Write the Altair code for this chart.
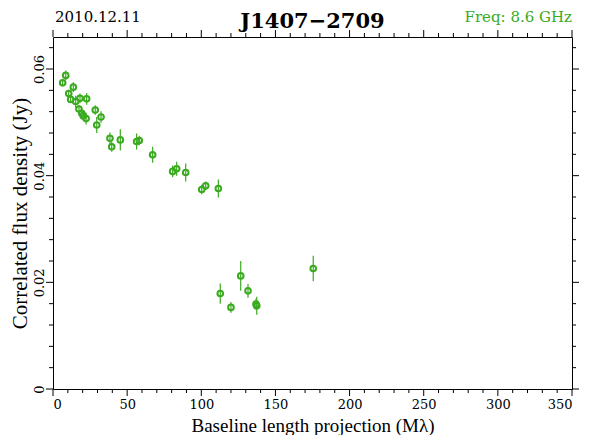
import altair as alt
import pandas as pd

# Data
baseline = [6.5, 8.6, 13.7, 10.6, 11.9, 15.3, 18.2, 22.7, 17.5, 19.4,
            20.4, 22.3, 28.5, 32.4, 29.5, 38.4, 39.6, 45.4, 56.4, 58.2,
            67.2, 80.7, 83.4, 89.5, 100.3, 103.0, 111.5, 112.8, 120.0, 126.6,
            131.5, 137.4, 136.9, 175.5]
flux = [0.0574, 0.0588, 0.0566, 0.0554, 0.0543, 0.0539, 0.0545, 0.0544, 0.0525, 0.0517,
        0.0512, 0.0507, 0.0523, 0.0510, 0.0495, 0.0470, 0.0454, 0.0467, 0.0464, 0.0466,
        0.0439, 0.0408, 0.0413, 0.0406, 0.0374, 0.0381, 0.0376, 0.0179, 0.0153, 0.0212,
        0.0184, 0.0156, 0.0159, 0.0226]
err = [0.0006, 0.0009, 0.0009, 0.0007, 0.0006, 0.0011, 0.0009, 0.0011, 0.0007, 0.0007,
       0.0007, 0.0011, 0.0009, 0.0011, 0.0015, 0.0011, 0.0009, 0.0020, 0.0015, 0.0009,
       0.0015, 0.0011, 0.0013, 0.0017, 0.0009, 0.0008, 0.0017, 0.0019, 0.0010, 0.0028,
       0.0013, 0.0017, 0.0010, 0.0024]

x_major = [0, 50, 100, 150, 200, 250, 300, 350]
x_minor = [10, 20, 30, 40, 60, 70, 80, 90, 110, 120, 130, 140, 160, 170, 180, 190,
           210, 220, 230, 240, 260, 270, 280, 290, 310, 320, 330, 340]
y_major = [0.0, 0.02, 0.04, 0.06]
y_minor = [0.004, 0.008, 0.012, 0.016, 0.024, 0.028, 0.032, 0.036,
           0.044, 0.048, 0.052, 0.056, 0.064]

date_text = "2010.12.11"
source_text = "J1407\u22122709"
freq_text = "Freq: 8.6 GHz"

GREEN = "#3aaa1f"
W, H = 519, 352
MAJ, MIN = 7, 4

df = pd.DataFrame({"b": baseline, "f": flux, "e": err})
df["lo"] = df["f"] - df["e"]
df["hi"] = df["f"] + df["e"]

xs = alt.Scale(domain=[0, 350], nice=False, zero=False)
ys = alt.Scale(domain=[0, 0.066], nice=False, zero=False)

xaxis = alt.Axis(values=x_major, ticks=False, domain=False, grid=False,
                 labelFont="DejaVu Serif", labelFontSize=13, labelColor="black",
                 labelPadding=9, title="Baseline length projection (M\u03bb)",
                 titleFont="Liberation Serif", titleFontSize=19, titleFontWeight="normal",
                 titleColor="black", titleX=W / 2, titleY=42, titleAlign="center",
                 titleBaseline="alphabetic", titleAnchor="middle")
yaxis = alt.Axis(values=y_major, ticks=False, domain=False, grid=False,
                 labelFont="DejaVu Serif", labelFontSize=13, labelColor="black",
                 labelAngle=270, labelAlign="center", labelBaseline="bottom",
                 labelPadding=7,
                 labelExpr="datum.value == 0 ? '0' : format(datum.value, '.2f')",
                 title="Correlated flux density (Jy)",
                 titleFont="Liberation Serif", titleFontSize=21, titleFontWeight="normal",
                 titleColor="black", titleAngle=270, titleX=-33, titleY=H / 2,
                 titleAlign="center", titleBaseline="middle", titleAnchor="middle")


def X(field):
    return alt.X(field, type="quantitative", scale=xs, axis=xaxis)


def Y(field):
    return alt.Y(field, type="quantitative", scale=ys, axis=yaxis)


bars = alt.Chart(df).mark_rule(color=GREEN, strokeWidth=1.2).encode(
    x=X("b"), y=Y("lo"), y2="hi")
pts = alt.Chart(df).mark_point(shape="circle", filled=False, color=GREEN,
                               size=32, strokeWidth=2, opacity=1).encode(
    x=X("b"), y=Y("f"))

layers = [bars, pts]

dxM = pd.DataFrame({"p": x_major})
dxm = pd.DataFrame({"p": x_minor})
dyM = pd.DataFrame({"p": y_major})
dym = pd.DataFrame({"p": y_minor})

for d, L in [(dxM, MAJ), (dxm, MIN)]:
    layers.append(alt.Chart(d).mark_rule(color="black", strokeWidth=1).encode(
        x=X("p"), y=alt.value(H), y2=alt.value(H + L)))
    layers.append(alt.Chart(d).mark_rule(color="black", strokeWidth=1).encode(
        x=X("p"), y=alt.value(0), y2=alt.value(-L)))
for d, L in [(dyM, MAJ), (dym, MIN)]:
    layers.append(alt.Chart(d).mark_rule(color="black", strokeWidth=1).encode(
        y=Y("p"), x=alt.value(0), x2=alt.value(-L)))
    layers.append(alt.Chart(d).mark_rule(color="black", strokeWidth=1).encode(
        y=Y("p"), x=alt.value(W), x2=alt.value(W + L)))

tdf = pd.DataFrame({"a": [0]})
layers.append(alt.Chart(tdf).mark_text(text=date_text, font="DejaVu Serif", fontSize=15,
                                       align="left", baseline="alphabetic", color="black").encode(
    x=alt.value(2), y=alt.value(-15)))
layers.append(alt.Chart(tdf).mark_text(text=source_text, font="DejaVu Serif", fontSize=21,
                                       fontWeight="bold", align="center", baseline="alphabetic",
                                       color="black").encode(
    x=alt.value(W / 2), y=alt.value(-9)))
layers.append(alt.Chart(tdf).mark_text(text=freq_text, font="DejaVu Serif", fontSize=15,
                                       align="right", baseline="alphabetic", color=GREEN).encode(
    x=alt.value(W), y=alt.value(-15)))

chart = alt.layer(*layers).properties(
    width=W, height=H,
    padding={"left": 45, "top": 29, "right": 10, "bottom": 46},
    autosize=alt.AutoSizeParams(type="none"),
    background="white",
).configure_view(stroke="black", strokeWidth=1)

chart.save("out.html", embed_options={"renderer": "svg", "actions": False})
